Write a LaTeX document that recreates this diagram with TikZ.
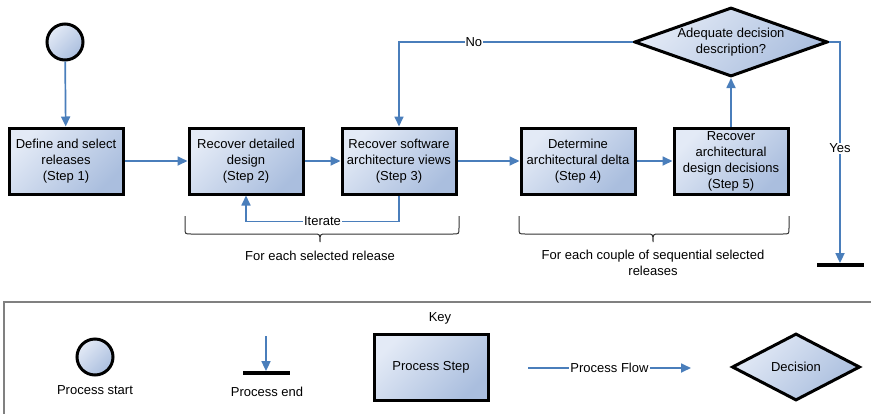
\documentclass[tikz,border=0pt]{standalone}
\usepackage{fontspec}
\setmainfont{Liberation Sans}
\usetikzlibrary{shapes.geometric,arrows.meta}
\definecolor{flowblue}{RGB}{74,126,187}
\definecolor{boxlight}{RGB}{227,234,246}
\definecolor{boxdark}{RGB}{170,190,222}
\definecolor{keygray}{RGB}{128,128,128}
\tikzset{
  bluefill/.style={top color=boxlight, bottom color=boxdark, shading angle=45},
  stepbox/.style={draw, bluefill, rectangle, line width=3pt, minimum width=114pt, minimum height=66pt, inner sep=1pt, align=center},
  startnode/.style={draw, bluefill, circle, line width=3pt, minimum size=36pt, inner sep=0pt},
  decision/.style={draw, bluefill, diamond, line width=3pt, aspect=2.8, inner sep=1pt, minimum width=193pt, minimum height=66pt, align=center},
  endbar/.style={fill=black, rectangle, minimum width=47pt, minimum height=3.4pt, inner sep=0pt},
  flow/.style={draw=flowblue, line width=1.7pt, -{Triangle[length=10pt,width=9pt]}},
  lbl/.style={fill=white, inner sep=1pt},
  bracket/.style={draw=black!80, line width=1pt}
}
\begin{document}
\begin{tikzpicture}[x=1pt, y=-1pt, font=\fontsize{13}{16}\selectfont]
	\useasboundingbox (0,0) rectangle (871,413);
	% main flow
	\node (start)[startnode] at (65,42) {};
	\node (step1)[stepbox] at (66,161) {Define and select\\releases\\(Step 1)};
	\node (step2)[stepbox] at (246,161) {Recover detailed\\design\\(Step 2)};
	\node (step3)[stepbox] at (399,161) {Recover software\\architecture views\\(Step 3)};
	\node (step4)[stepbox] at (578,161) {Determine\\architectural delta\\(Step 4)};
	\node (step5)[stepbox] at (731,161) {Recover\\architectural\\design decisions\\(Step 5)};
	\node (dec)[decision] at (731,42) {Adequate decision\\description?};
	\node (stop)[endbar] at (840,265) {};
	\draw [flow](start)--(step1);
	\draw [flow](step1)--(step2);
	\draw [flow](step2)--(step3);
	\draw [flow](step3)--(step4);
	\draw [flow](step4)--(step5);
	\draw [flow](step5)--(dec);
	\draw [flow](dec.west) -| node[pos=0.34, lbl] {No} (step3.north);
	\draw [flow](dec.east) -| node[pos=0.74, lbl] {Yes} (stop.north);
	\draw [flow](step3.south) -- ++(0,26) -| node[pos=0.25, lbl] {Iterate} (step2.south);
	% braces
	\draw [bracket](185,216) -- (185,228) .. controls (185,234) .. (191,234) -- (314,234)
		.. controls (320,234) .. (320,242) .. controls (320,234) .. (326,234) -- (453,234)
		.. controls (459,234) .. (459,228) -- (459,216);
	\node (grp1) at (320,256) {For each selected release};
	\draw [bracket](519,216) -- (519,228) .. controls (519,234) .. (525,234) -- (647,234)
		.. controls (653,234) .. (653,242) .. controls (653,234) .. (659,234) -- (783,234)
		.. controls (789,234) .. (789,228) -- (789,216);
	\node (grp2)[align=center] at (653,263) {For each couple of sequential selected\\releases};
	% key
	\draw [draw=keygray, line width=1.8pt](4,420) -- (4,302) -- (880,302);
	\node (key) at (440,318) {Key};
	\node (kstart)[startnode] at (95,357) {};
	\node (kstartl) at (95,390) {Process start};
	\node (kend)[endbar] at (266,373) {};
	\coordinate (kendtop) at (266,336);
	\draw [flow](kendtop)--(kend.north);
	\node (kendl) at (267,392) {Process end};
	\node (kstep)[stepbox] at (431,367) {Process Step};
	\coordinate (kflowa) at (528,368);
	\coordinate (kflowb) at (691,368);
	\draw [flow](kflowa)-- node[lbl] {Process Flow} (kflowb);
	\node (kdec)[decision, minimum width=128pt, minimum height=67pt, aspect=1.9] at (796,367) {Decision};
\end{tikzpicture}
\end{document}
